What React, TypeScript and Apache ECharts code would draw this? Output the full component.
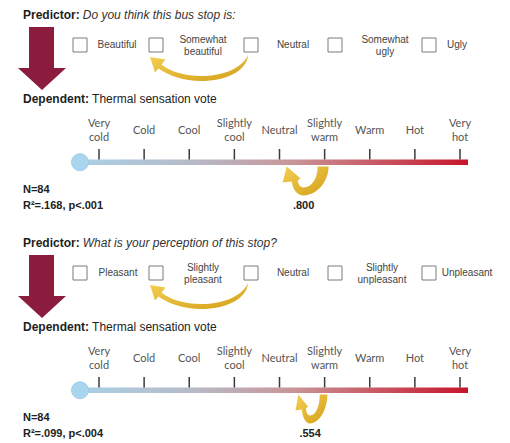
import React, { useEffect, useRef } from "react";
import * as echarts from "echarts";

// ---------- data ----------
const predictorQuestions = [
  "Do you think this bus stop is:",
  "What is your perception of this stop?",
];
const beautyOptions = ["Beautiful", "Somewhat\nbeautiful", "Neutral", "Somewhat\nugly", "Ugly"];
const pleasantOptions = ["Pleasant", "Slightly\npleasant", "Neutral", "Slightly\nunpleasant", "Unpleasant"];
const thermalLabels = [
  "Very\ncold", "Cold", "Cool", "Slightly\ncool", "Neutral",
  "Slightly\nwarm", "Warm", "Hot", "Very\nhot",
];
const dependentName = "Thermal sensation vote";
const sampleSizes = [84, 84];
const rSquaredLabels = [".168", ".099"];
const pValueLabels = ["p<.001", "p<.004"];
const coefficients = [0.8, 0.554];
const arrowFromCategory = 5; // "Slightly warm"

// ---------- layout ----------
const PANEL_DY = 228;
const GRID_TOP = 159.5;
const BOX_X = [73, 149, 244, 328, 422];
const LABEL_X = [
  [117, 203, 293, 385, 457],
  [118, 203, 293, 382, 467],
];
const U_REF = 0.8;
const SANS = "'Liberation Sans', Arial, sans-serif";
const CAL = "Lato, 'Open Sans', sans-serif";

const BIG_CURVE =
  "M 248 55 C 247 71 226 81 201 81 C 184 81 169 76 158.5 68.5 L 155 72.5 L 150 57 L 165.5 59.5 L 161.5 64.5 C 171 72 185 76 201 76 C 224 76 242 68 248 55 Z";
const U_TURN =
  "M -7 7 L 4 7 C 4 22 -8 36 -21 36 C -28 36 -32 29 -33 22 L -42 23 L -38 7 L -24 19 L -27 21 C -26 26 -24 28 -21 28 C -13 28 -7 19 -7 7 Z";

let registered = false;
function registerShapes() {
  if (registered) return;
  registered = true;
  echarts.graphic.registerShape("bigCurve", echarts.graphic.extendPath(BIG_CURVE, {}) as any);
  echarts.graphic.registerShape("uTurn", echarts.graphic.extendPath(U_TURN, {}) as any);
}

function goldFill() {
  return new echarts.graphic.LinearGradient(0, 0, 1, 1, [
    { offset: 0, color: "#F4CF52" },
    { offset: 1, color: "#D3A01A" },
  ]);
}

function txt(x: number, y: number, text: string, extra: any = {}) {
  const style = {
    text,
    fill: "#222",
    fontFamily: SANS,
    fontSize: 11,
    align: "left",
    verticalAlign: "middle",
    textAlign: "left",
    textVerticalAlign: "middle",
    ...extra,
  };
  return { type: "text", x, y, style, z: 10 };
}

export default function App() {
  const ref = useRef<HTMLDivElement>(null);

  useEffect(() => {
    if (!ref.current) return;
    registerShapes();
    const chart = echarts.init(ref.current, null, { renderer: "svg" });
    const panels = [0, 1];

    chart.setOption({
      animation: false,
      backgroundColor: "#ffffff",
      grid: panels.map((p) => ({
        left: 99,
        width: 361,
        top: GRID_TOP + p * PANEL_DY,
        height: 5,
        containLabel: false,
      })),
      xAxis: panels.map((p) => ({
        type: "category",
        gridIndex: p,
        position: "top",
        data: thermalLabels,
        boundaryGap: false,
        axisLine: { show: false },
        axisTick: { show: false },
        axisLabel: {
          show: true,
          interval: 0,
          margin: 30.5,
          fontSize: 11,
          lineHeight: 14,
          color: "#555",
          fontFamily: CAL,
          verticalAlign: "middle",
          showMinLabel: true,
          showMaxLabel: true,
        },
        splitLine: { show: false },
        z: 5,
      })),
      yAxis: panels.map((p) => ({ type: "value", gridIndex: p, show: false })),
      series: panels.map((p) => ({
        type: "line",
        xAxisIndex: p,
        yAxisIndex: p,
        data: [],
      })),
    });

    const graphics: any[] = [];
    panels.forEach((p) => {
      const dy = p * PANEL_DY;
      const options = p === 0 ? beautyOptions : pleasantOptions;
      const gridTop = GRID_TOP + dy;
      const tickX = thermalLabels.map(
        (_, i) => chart.convertToPixel({ xAxisIndex: p } as any, i) as unknown as number
      );

      graphics.push(
        txt(23, 15 + dy, `{b|Predictor:} {i|${predictorQuestions[p]}}`, {
          rich: {
            b: { fontWeight: "bold", fontSize: 12, fontFamily: SANS, fill: "#1e1e1e" },
            i: { fontStyle: "italic", fontSize: 12, fontFamily: SANS, fill: "#333" },
          },
        })
      );
      graphics.push({
        type: "polygon",
        shape: {
          points: [
            [29, 27 + dy], [54, 27 + dy], [54, 68 + dy], [66, 68 + dy],
            [42, 90 + dy], [18, 68 + dy], [29, 68 + dy],
          ],
        },
        style: { fill: "#8B1C3D" },
      });
      options.forEach((o, i) => {
        graphics.push({
          type: "rect",
          shape: { x: BOX_X[i], y: 38 + dy, width: 14, height: 14 },
          style: { fill: "#fff", stroke: "#7a7a7a", lineWidth: 1 },
        });
        graphics.push(
          txt(LABEL_X[p][i], (o.includes("\n") ? 45 : 44) + dy, o, {
            fontSize: 10,
            lineHeight: 12,
            fill: "#444",
            align: "center",
            textAlign: "center",
          })
        );
      });
      graphics.push({
        type: "bigCurve",
        x: 0,
        y: dy,
        style: { fill: goldFill() },
      });
      graphics.push(
        txt(23, 99 + dy, `{b|Dependent:} {n|${dependentName}}`, {
          rich: {
            b: { fontWeight: "bold", fontSize: 12, fontFamily: SANS, fill: "#1e1e1e" },
            n: { fontSize: 12, fontFamily: SANS, fill: "#222" },
          },
        })
      );
      const bulbX = tickX[0] - 19;
      const barRight = tickX[tickX.length - 1] + 8;
      graphics.push({
        type: "rect",
        shape: { x: bulbX, y: gridTop, width: barRight - bulbX, height: 5.5 },
        style: {
          fill: new echarts.graphic.LinearGradient(0, 0, 1, 0, [
            { offset: 0, color: "#A9D0E6" },
            { offset: 0.3, color: "#B7B9C6" },
            { offset: 0.55, color: "#C99597" },
            { offset: 1, color: "#C7152B" },
          ]),
        },
        z: 1,
      });
      // scale ticks at each category position
      tickX.forEach((tx) => {
        graphics.push({
          type: "line",
          shape: { x1: tx, y1: gridTop - 10.5, x2: tx, y2: gridTop },
          style: { stroke: "#3a3a3a", lineWidth: 1.5 },
          z: 2,
        });
      });
      graphics.push({
        type: "circle",
        shape: { cx: bulbX, cy: gridTop + 2.75, r: 8.5 },
        style: { fill: "#A9D6EE", stroke: "#97C6DF", lineWidth: 0.8 },
        z: 2,
      });
      const scale = coefficients[p] / U_REF;
      const ux = tickX[arrowFromCategory];
      graphics.push({
        type: "uTurn",
        x: ux,
        y: gridTop,
        scaleX: scale,
        scaleY: 1,
        style: { fill: goldFill() },
        z: 3,
      });
      graphics.push(
        txt(ux - 21 * scale, gridTop + 45.5, coefficients[p].toFixed(3).replace(/^0/, ""), {
          fontWeight: "bold",
          fontSize: 11,
          align: "center",
          textAlign: "center",
        })
      );
      graphics.push(txt(23, gridTop + 29.5, `N=${sampleSizes[p]}`, { fontWeight: "bold", fontSize: 11 }));
      graphics.push(
        txt(23, gridTop + 45.5, `R²=${rSquaredLabels[p]}, ${pValueLabels[p]}`, {
          fontWeight: "bold",
          fontSize: 11,
        })
      );
    });

    chart.setOption({ graphic: { elements: graphics } });

    return () => chart.dispose();
  }, []);

  return (
    <div
      ref={ref}
      style={{ position: "absolute", left: 0, top: 0, width: 510, height: 443, background: "#fff" }}
    />
  );
}
